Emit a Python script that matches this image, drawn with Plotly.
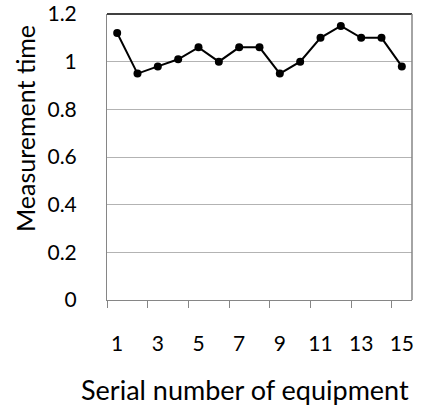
import plotly.graph_objects as go

serial = list(range(1, 16))
measurement_time = [1.12, 0.95, 0.98, 1.01, 1.06, 1.00, 1.06, 1.06, 0.95, 1.00, 1.10, 1.15, 1.10, 1.10, 0.98]
x_tick_vals = [1, 3, 5, 7, 9, 11, 13, 15]
y_tick_vals = [0, 0.2, 0.4, 0.6, 0.8, 1, 1.2]
y_tick_text = ["0", "0.2", "0.4", "0.6", "0.8", "1", "1.2"]

FONT = "Lato"
AXIS_GRAY = "#868686"

fig = go.Figure()
fig.add_trace(go.Scatter(
    x=serial, y=measurement_time, mode="lines+markers",
    line=dict(color="black", width=2),
    marker=dict(color="black", size=8),
    showlegend=False, cliponaxis=False,
))

fig.update_layout(
    width=423, height=409,
    margin=dict(l=107, r=11, t=14, b=109),
    paper_bgcolor="white", plot_bgcolor="white",
    font=dict(family=FONT, color="black"),
    xaxis=dict(
        range=[0.5, 15.5], tickvals=x_tick_vals, ticks="",
        tickfont=dict(size=21), ticklabelstandoff=25, automargin=False,
        showgrid=False, zeroline=False,
        showline=True, linecolor=AXIS_GRAY, linewidth=1,
        minor=dict(tick0=0.5, dtick=2, ticks="outside", ticklen=7, tickcolor=AXIS_GRAY, showgrid=False),
    ),
    yaxis=dict(
        range=[0, 1.2], tickvals=y_tick_vals, ticktext=y_tick_text,
        ticks="outside", ticklen=25, tickcolor="rgba(0,0,0,0)",
        tickfont=dict(size=21), automargin=False,
        showgrid=True, gridcolor="#b3b3b3", gridwidth=1, zeroline=False,
        showline=True, linecolor=AXIS_GRAY, linewidth=1,
    ),
    yaxis2=dict(
        overlaying="y", side="left", anchor="x",
        range=[0, 1.2], tickvals=y_tick_vals,
        ticks="outside", ticklen=7, tickcolor=AXIS_GRAY,
        showticklabels=False, showgrid=False, zeroline=False, showline=False,
        automargin=False,
    ),
    shapes=[
        dict(type="line", xref="paper", yref="paper", x0=0, x1=1, y0=1, y1=1,
             line=dict(color="black", width=1.5)),
        dict(type="line", xref="paper", yref="paper", x0=1, x1=1, y0=0, y1=1,
             line=dict(color=AXIS_GRAY, width=1.5)),
    ],
    annotations=[
        dict(text="Serial number of equipment", xref="paper", yref="paper",
             x=(245 - 107) / 305, y=-(408 - 300) / 286, xanchor="center", yanchor="bottom",
             showarrow=False, font=dict(size=27)),
        dict(text="Measurement time", xref="paper", yref="paper", textangle=-90,
             x=-(107 - 25) / 305, y=(300 - 129) / 286, xanchor="center", yanchor="middle",
             showarrow=False, font=dict(size=25)),
    ],
)

fig.write_html(
    "out.html",
    config={"displayModeBar": False},
    post_script="document.body.style.margin='0';document.body.style.overflow='hidden';",
)
